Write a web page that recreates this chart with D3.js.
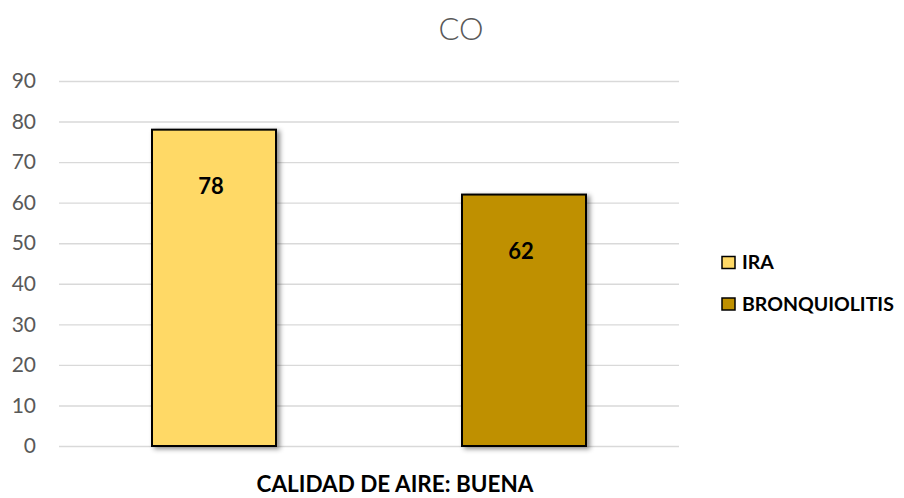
<!DOCTYPE html>
<html>
<head>
<meta charset="utf-8">
<script src="https://cdn.jsdelivr.net/npm/d3@7"></script>
<style>
  html, body { margin: 0; padding: 0; background: #fff; }
  svg { display: block; }
</style>
</head>
<body>
<svg id="chart" width="904" height="498"></svg>
<script>
// Chart data
const chartTitle = "CO";
const categoryLabel = "CALIDAD DE AIRE: BUENA";
const seriesNames = ["IRA", "BRONQUIOLITIS"];
const seriesValues = [78, 62];
const seriesColors = ["#FFD966", "#BF9000"];
const yTicks = [0, 10, 20, 30, 40, 50, 60, 70, 80, 90];

const svg = d3.select("#chart");
const font = "Lato, 'Open Sans', sans-serif";

const plot = { left: 59, right: 679, top: 81, bottom: 446 };

const y = d3.scaleLinear().domain([0, 90]).range([plot.bottom, plot.top]);
const x = d3.scaleBand()
  .domain(seriesNames)
  .range([plot.left, plot.right])
  .paddingInner(0.6)
  .paddingOuter(0.3);

// Soft shadow under the bars
const defs = svg.append("defs");
const f = defs.append("filter").attr("id", "shadow")
  .attr("x", "-10%").attr("y", "-10%").attr("width", "130%").attr("height", "130%");
f.append("feDropShadow")
  .attr("dx", 3).attr("dy", 2).attr("stdDeviation", 2.5)
  .attr("flood-color", "#000").attr("flood-opacity", 0.45);

// Title
svg.append("text")
  .attr("x", 461).attr("y", 40)
  .attr("text-anchor", "middle")
  .attr("font-family", font)
  .attr("font-weight", 300)
  .attr("font-size", 31)
  .attr("fill", "#595959")
  .text(chartTitle);

// Gridlines and y axis labels
const yAxis = d3.axisLeft(y)
  .tickValues(yTicks)
  .tickSize(-(plot.right - plot.left))
  .tickPadding(23);
const gy = svg.append("g")
  .attr("transform", `translate(${plot.left},0)`)
  .call(yAxis);
gy.select(".domain").remove();
gy.selectAll(".tick line").attr("stroke", "#d9d9d9").attr("stroke-width", 1.4);
gy.selectAll(".tick text")
  .attr("font-family", font)
  .attr("font-size", 21)
  .attr("fill", "#595959");

// Bars
const data = seriesNames.map((name, i) => ({ name, value: seriesValues[i], color: seriesColors[i] }));
svg.append("g").selectAll("rect")
  .data(data)
  .join("rect")
  .attr("x", d => x(d.name))
  .attr("y", d => y(d.value))
  .attr("width", x.bandwidth())
  .attr("height", d => y(0) - y(d.value))
  .attr("fill", d => d.color)
  .attr("stroke", "#000")
  .attr("stroke-width", 2)
  .attr("filter", "url(#shadow)");

// Value labels inside the bar tops
svg.append("g").selectAll("text")
  .data(data)
  .join("text")
  .attr("x", d => x(d.name) + x.bandwidth() / 2 - 3)
  .attr("y", d => y(d.value) + 64)
  .attr("text-anchor", "middle")
  .attr("font-family", font)
  .attr("font-weight", 700)
  .attr("font-size", 22)
  .attr("fill", "#000")
  .text(d => d.value);

// Category axis title
svg.append("text")
  .attr("x", 395).attr("y", 492)
  .attr("text-anchor", "middle")
  .attr("font-family", font)
  .attr("font-weight", 700)
  .attr("font-size", 22.5)
  .attr("fill", "#000")
  .text(categoryLabel);

// Legend
const legend = svg.append("g").selectAll("g")
  .data(data)
  .join("g")
  .attr("transform", (d, i) => `translate(722,${262.5 + i * 41.5})`);
legend.append("rect")
  .attr("x", 0).attr("y", -6)
  .attr("width", 13).attr("height", 12)
  .attr("fill", d => d.color)
  .attr("stroke", "#000")
  .attr("stroke-width", 1.5);
legend.append("text")
  .attr("x", 20).attr("y", 6.5)
  .attr("font-family", font)
  .attr("font-weight", 700)
  .attr("font-size", 19.5)
  .attr("fill", "#000")
  .text(d => d.name);
</script>
</body>
</html>
